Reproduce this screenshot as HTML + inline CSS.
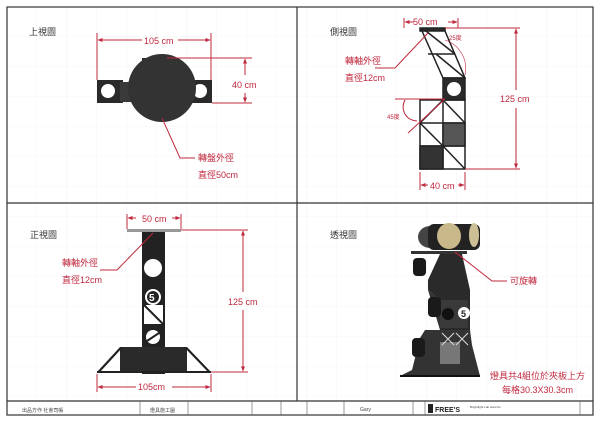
<!DOCTYPE html>
<html><head><meta charset="utf-8"><style>
html,body{margin:0;padding:0;background:#fff;}
svg{display:block;}
text{font-family:"Liberation Sans","Noto Sans CJK TC",sans-serif;}
</style></head><body>
<svg width="600" height="425" viewBox="0 0 600 425" xmlns="http://www.w3.org/2000/svg">
<defs>
<pattern id="g" width="30" height="30" patternUnits="userSpaceOnUse" x="7" y="7">
<path d="M30 0V30H0" fill="none" stroke="#ececec" stroke-width="0.6"/>
</pattern>
<marker id="a" viewBox="0 0 10 10" refX="9" refY="5" markerWidth="5" markerHeight="5" orient="auto-start-reverse"><path d="M0 1L10 5L0 9z" fill="#c0283e"/></marker>
</defs>
<rect x="7" y="7" width="586" height="394" fill="url(#g)"/>
<g fill="none" stroke="#333" stroke-width="1.2">
<rect x="7" y="7" width="586" height="408"/>
<line x1="297" y1="7" x2="297" y2="401"/>
<line x1="7" y1="203" x2="593" y2="203"/>
<line x1="7" y1="401" x2="593" y2="401"/>
</g>
<g stroke="#555" stroke-width="0.6">
<line x1="140" y1="401" x2="140" y2="415"/><line x1="188" y1="401" x2="188" y2="415"/>
<line x1="252" y1="401" x2="252" y2="415"/><line x1="281" y1="401" x2="281" y2="415"/>
<line x1="307" y1="401" x2="307" y2="415"/><line x1="344" y1="401" x2="344" y2="415"/>
<line x1="413" y1="401" x2="413" y2="415"/><line x1="425" y1="401" x2="425" y2="415"/>
<line x1="580" y1="401" x2="580" y2="415"/>
</g>
<g font-size="5" fill="#444">
<text x="22" y="412">出品方作 社會司帳</text><text x="150" y="412">燈具施工圖</text>
<text x="360" y="411">Gary</text>
<text x="435" y="412" font-weight="bold" font-size="7" fill="#222">FREE'S</text>
<text x="470" y="408" font-size="3">Brightlight Lab www.fre</text>
</g>
<rect x="428" y="404" width="5" height="9" fill="#222"/>

<g font-size="9" fill="#333">
<text x="29" y="35">上視圖</text><text x="330" y="35">側視圖</text>
<text x="30" y="238">正視圖</text><text x="330" y="238">透視圖</text>
</g>

<!-- TOP VIEW -->
<g>
<rect x="97" y="80" width="26" height="23" fill="#2a2a2a"/><circle cx="108" cy="91" r="7" fill="#fff"/>
<rect x="186" y="80" width="26" height="23" fill="#2a2a2a"/><circle cx="200" cy="91" r="7" fill="#fff"/>
<rect x="120" y="82" width="70" height="20" fill="#3a3a3a"/>
<rect x="142" y="58" width="23" height="11" fill="#2a2a2a"/>
<circle cx="162" cy="88" r="34" fill="#333"/>
</g>
<g stroke="#c0283e" stroke-width="1" fill="none">
<line x1="97" y1="33" x2="97" y2="80"/><line x1="211" y1="33" x2="211" y2="80"/>
<line x1="98" y1="40" x2="142" y2="40" marker-start="url(#a)"/><line x1="178" y1="40" x2="210" y2="40" marker-end="url(#a)"/>
<line x1="167" y1="58" x2="252" y2="58"/><line x1="212" y1="103" x2="252" y2="103"/>
<line x1="245" y1="59" x2="245" y2="75" marker-start="url(#a)"/><line x1="245" y1="93" x2="245" y2="102" marker-end="url(#a)"/>
<polyline points="162,118 180,158 195,158"/>
</g>
<g font-size="9" fill="#c0283e">
<text x="144" y="44">105 cm</text><text x="232" y="88">40 cm</text>
<text x="198" y="161">轉盤外徑</text><text x="198" y="178">直徑50cm</text>
</g>

<!-- SIDE VIEW -->
<g fill="#2a2a2a" stroke="#222" stroke-width="1.5">
<rect x="420" y="28" width="25" height="3"/>
<polyline fill="none" points="422,31 443,78 465,78 445,31"/>
<line x1="428" y1="54" x2="455" y2="54" fill="none"/><line x1="436" y1="54" x2="465" y2="78" fill="none"/>
<line x1="426" y1="31" x2="455" y2="54" fill="none"/>
<rect x="443" y="78" width="22" height="22"/>
<rect x="420" y="100" width="45" height="69" fill="none"/>
<line x1="420" y1="123" x2="465" y2="123"/><line x1="420" y1="146" x2="465" y2="146"/>
<line x1="443" y1="100" x2="443" y2="169"/>
<line x1="443" y1="100" x2="420" y2="123"/><line x1="443" y1="100" x2="465" y2="123"/>
<line x1="420" y1="123" x2="443" y2="146"/><line x1="443" y1="146" x2="465" y2="169"/>
<rect x="443" y="123" width="22" height="23" fill="#555"/>
<rect x="420" y="146" width="23" height="23" fill="#333"/>
</g>
<circle cx="454" cy="89" r="7" fill="#fff"/>
<g stroke="#c0283e" stroke-width="1" fill="none">
<line x1="404" y1="18" x2="404" y2="28"/><line x1="458" y1="18" x2="458" y2="28"/>
<line x1="405" y1="22" x2="414" y2="22" marker-start="url(#a)"/><line x1="448" y1="22" x2="457" y2="22" marker-end="url(#a)"/>
<line x1="445" y1="28" x2="520" y2="28"/><line x1="465" y1="169" x2="520" y2="169"/>
<line x1="516" y1="29" x2="516" y2="90" marker-start="url(#a)"/><line x1="516" y1="108" x2="516" y2="168" marker-end="url(#a)"/>
<line x1="420" y1="172" x2="420" y2="190"/><line x1="465" y1="172" x2="465" y2="190"/>
<line x1="421" y1="185" x2="428" y2="185" marker-start="url(#a)"/><line x1="458" y1="185" x2="464" y2="185" marker-end="url(#a)"/>
<polyline points="428,33 395,68 375,68"/>
<line x1="395" y1="99" x2="445" y2="99"/><line x1="408" y1="133" x2="445" y2="99"/>
<path d="M405 100 A 14 14 0 0 0 417 121"/>
<path d="M445 40 A 30 30 0 0 1 465 75" stroke-width="0.6"/>
</g>
<g fill="#c0283e">
<text x="413" y="25" font-size="9">50 cm</text>
<text x="500" y="102" font-size="9">125 cm</text>
<text x="430" y="189" font-size="9">40 cm</text>
<text x="345" y="64" font-size="9">轉軸外徑</text><text x="345" y="81" font-size="9">直徑12cm</text>
<text x="449" y="40" font-size="6">25度</text><text x="387" y="119" font-size="6">45度</text>
</g>

<!-- FRONT VIEW -->
<g>
<rect x="127" y="229" width="54" height="3" fill="#999"/>
<rect x="142" y="232" width="23" height="142" fill="#222"/>
<circle cx="153" cy="268" r="9" fill="#fff"/>
<circle cx="153" cy="297" r="8" fill="#fff"/><circle cx="153" cy="297" r="6" fill="#222"/>
<text x="149" y="301" font-size="10" fill="#fff" font-weight="bold">5</text>
<polygon points="144,305 163,305 163,324 144,324" fill="#fff"/><line x1="144" y1="305" x2="163" y2="324" stroke="#222" stroke-width="2"/>
<circle cx="153" cy="337" r="7" fill="#fff"/><line x1="147" y1="341" x2="159" y2="333" stroke="#222" stroke-width="2"/>
<circle cx="153" cy="362" r="7" fill="#fff"/><line x1="147" y1="366" x2="159" y2="358" stroke="#222" stroke-width="2"/>
<rect x="120" y="347" width="67" height="25" fill="#2a2a2a"/>
<polygon points="97,372 120,347 123,347 100,372" fill="#222"/>
<polygon points="211,372 187,347 184,347 208,372" fill="#222"/>
<line x1="97" y1="372" x2="211" y2="372" stroke="#222" stroke-width="2"/>
</g>
<g stroke="#c0283e" stroke-width="1" fill="none">
<line x1="127" y1="214" x2="127" y2="229"/><line x1="181" y1="214" x2="181" y2="229"/>
<line x1="128" y1="218" x2="136" y2="218" marker-start="url(#a)"/><line x1="172" y1="218" x2="180" y2="218" marker-end="url(#a)"/>
<line x1="181" y1="230" x2="248" y2="230"/><line x1="211" y1="372" x2="248" y2="372"/>
<line x1="243" y1="231" x2="243" y2="292" marker-start="url(#a)"/><line x1="243" y1="310" x2="243" y2="371" marker-end="url(#a)"/>
<line x1="97" y1="374" x2="97" y2="392"/><line x1="211" y1="374" x2="211" y2="392"/>
<line x1="98" y1="387" x2="136" y2="387" marker-start="url(#a)"/><line x1="172" y1="387" x2="210" y2="387" marker-end="url(#a)"/>
<polyline points="153,233 117,270 100,270"/>
</g>
<g fill="#c0283e" font-size="9">
<text x="142" y="222">50 cm</text><text x="228" y="305">125 cm</text><text x="138" y="390">105cm</text>
<text x="62" y="266">轉軸外徑</text><text x="62" y="283">直徑12cm</text>
</g>

<!-- PERSPECTIVE -->
<g>
<ellipse cx="430" cy="237" rx="12" ry="11" fill="#444"/>
<rect x="428" y="224" width="52" height="26" rx="6" fill="#222"/>
<ellipse cx="449" cy="236" rx="12" ry="13" fill="#c9b88a"/>
<ellipse cx="474" cy="235" rx="5" ry="12" fill="#cdbf95"/>
<rect x="411" y="251" width="56" height="3" fill="#333"/>
<polygon points="440,254 462,254 470,290 470,330 440,330 440,300 428,290 428,280" fill="#2a2a2a"/>
<polygon points="428,290 440,300 440,330 425,330 420,338 412,370 400,376 480,376 472,345 470,330 440,330" fill="#333"/>
<line x1="400" y1="376" x2="480" y2="376" stroke="#111" stroke-width="2"/>
<rect x="440" y="300" width="28" height="28" fill="#3a3a3a"/>
<circle cx="464" cy="313" r="6" fill="#fff"/><text x="461" y="317" font-size="9" font-weight="bold" fill="#222">5</text>
<circle cx="448" cy="314" r="6" fill="#111"/>
<rect x="413" y="258" width="13" height="18" rx="4" fill="#1a1a1a"/>
<rect x="428" y="297" width="13" height="20" rx="4" fill="#1a1a1a"/>
<rect x="412" y="338" width="13" height="19" rx="4" fill="#1a1a1a"/>
<rect x="440" y="342" width="20" height="22" fill="#777"/>
<g stroke="#ddd" stroke-width="1"><line x1="442" y1="333" x2="454" y2="345"/><line x1="454" y1="333" x2="442" y2="345"/><line x1="456" y1="333" x2="468" y2="345"/><line x1="468" y1="333" x2="456" y2="345"/></g>
</g>
<polyline points="455,252 492,281 507,281" stroke="#c0283e" fill="none" stroke-width="1"/>
<g fill="#c0283e" font-size="9">
<text x="510" y="284">可旋轉</text>
<text x="490" y="379">燈具共4組位於夾板上方</text>
<text x="502" y="393">每格30.3X30.3cm</text>
</g>
</svg>
</body></html>
